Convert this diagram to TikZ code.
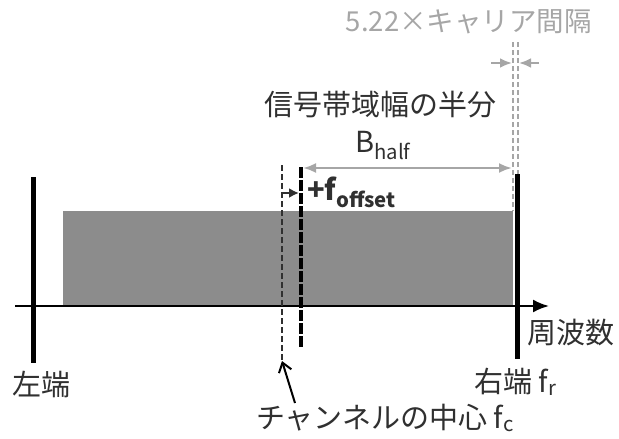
\documentclass[tikz,border=0pt]{standalone}
\usepackage{fontspec}
\setmainfont{Noto Sans CJK JP}
\usetikzlibrary{positioning,arrows.meta}
\definecolor{band}{HTML}{8C8C8C}
\definecolor{ink}{HTML}{303030}
\definecolor{guide}{HTML}{A6A6A6}

\begin{document}
\begin{tikzpicture}[
  x=1pt, y=-1pt,
  font=\fontsize{29}{33}\selectfont,
  lbl/.style={text=ink, inner sep=0pt, anchor=base west},
  edgeline/.style={line width=5pt, black},
  guideline/.style={guide, line width=1.2pt, dash pattern=on 5pt off 3pt},
  guidearrow/.style={-{Latex[length=12pt, width=10pt]}, guide, line width=2.5pt},
  dimarrow/.style={{Latex[length=13pt, width=10pt]}-{Latex[length=13pt, width=10pt]}, guide, line width=2.5pt}
]
\useasboundingbox (0,0) rectangle (619,439);
% band and axis
\fill[band] (63,211) rectangle (513,306);
\coordinate (axisL) at (15,306);
\coordinate (axisR) at (549,306);
\draw[-{Latex[length=16pt, width=13pt]}, line width=2.2pt] (axisL) -- (axisR);
% carrier spacing guides
\draw[guideline] (513,42) -- (513,211);
\draw[guideline] (518,42) -- (518,211);
\coordinate (gapL) at (491,63);
\coordinate (gapLtip) at (512,63);
\coordinate (gapR) at (539,63);
\coordinate (gapRtip) at (519,63);
\draw[guidearrow] (gapL) -- (gapLtip);
\draw[guidearrow] (gapR) -- (gapRtip);
% band edges
\coordinate (leftTop) at (33,177);
\coordinate (leftBot) at (33,363);
\coordinate (rightTop) at (517,174);
\coordinate (rightBot) at (517,359);
\draw[edgeline] (leftTop) -- (leftBot);
\draw[edgeline] (rightTop) -- (rightBot);
% channel centre and offset centre
\coordinate (fcTop) at (282,165);
\coordinate (fcBot) at (282,361);
\coordinate (offTop) at (301,167);
\coordinate (offBot) at (301,348);
\draw[ink, line width=1.2pt, dash pattern=on 6pt off 3pt] (fcTop) -- (fcBot);
\draw[black, line width=4.5pt, dash pattern=on 11pt off 2pt] (offTop) -- (offBot);
\coordinate (shiftA) at (282,193);
\coordinate (shiftB) at (299,193);
\draw[-{Latex[length=10pt, width=10pt]}, ink, line width=2pt] (shiftA) -- (shiftB);
% half bandwidth
\coordinate (halfL) at (303,168);
\coordinate (halfR) at (512,168);
\draw[dimarrow] (halfL) -- (halfR);
% labels
\node[lbl, text=guide, anchor=base east, font=\fontsize{27.5}{31}\selectfont] (spacing) at (592,31) {5.22×キャリア間隔};
\node[lbl] (halfname) at (264,115) {信号帯域幅の半分};
\node[lbl] (bhalf) at (355,152) {B\textsubscript{half}};
\node[lbl, font=\fontsize{29}{33}\selectfont\bfseries] (offset) at (307,200) {+f\textsubscript{offset}};
\node[lbl] (freq) at (527,343) {周波数};
\node[lbl] (leftlbl) at (12,395) {左端};
\node[lbl] (rightlbl) at (474,392) {右端 f\textsubscript{r}};
\node[lbl] (fclbl) at (256,428) {チャンネルの中心 f\textsubscript{c}};
\coordinate (fcTail) at (295,403);
\draw[-{Straight Barb[length=9pt, width=13pt]}, black, line width=2pt] (fcTail) -- (fcBot);
\end{tikzpicture}
\end{document}
